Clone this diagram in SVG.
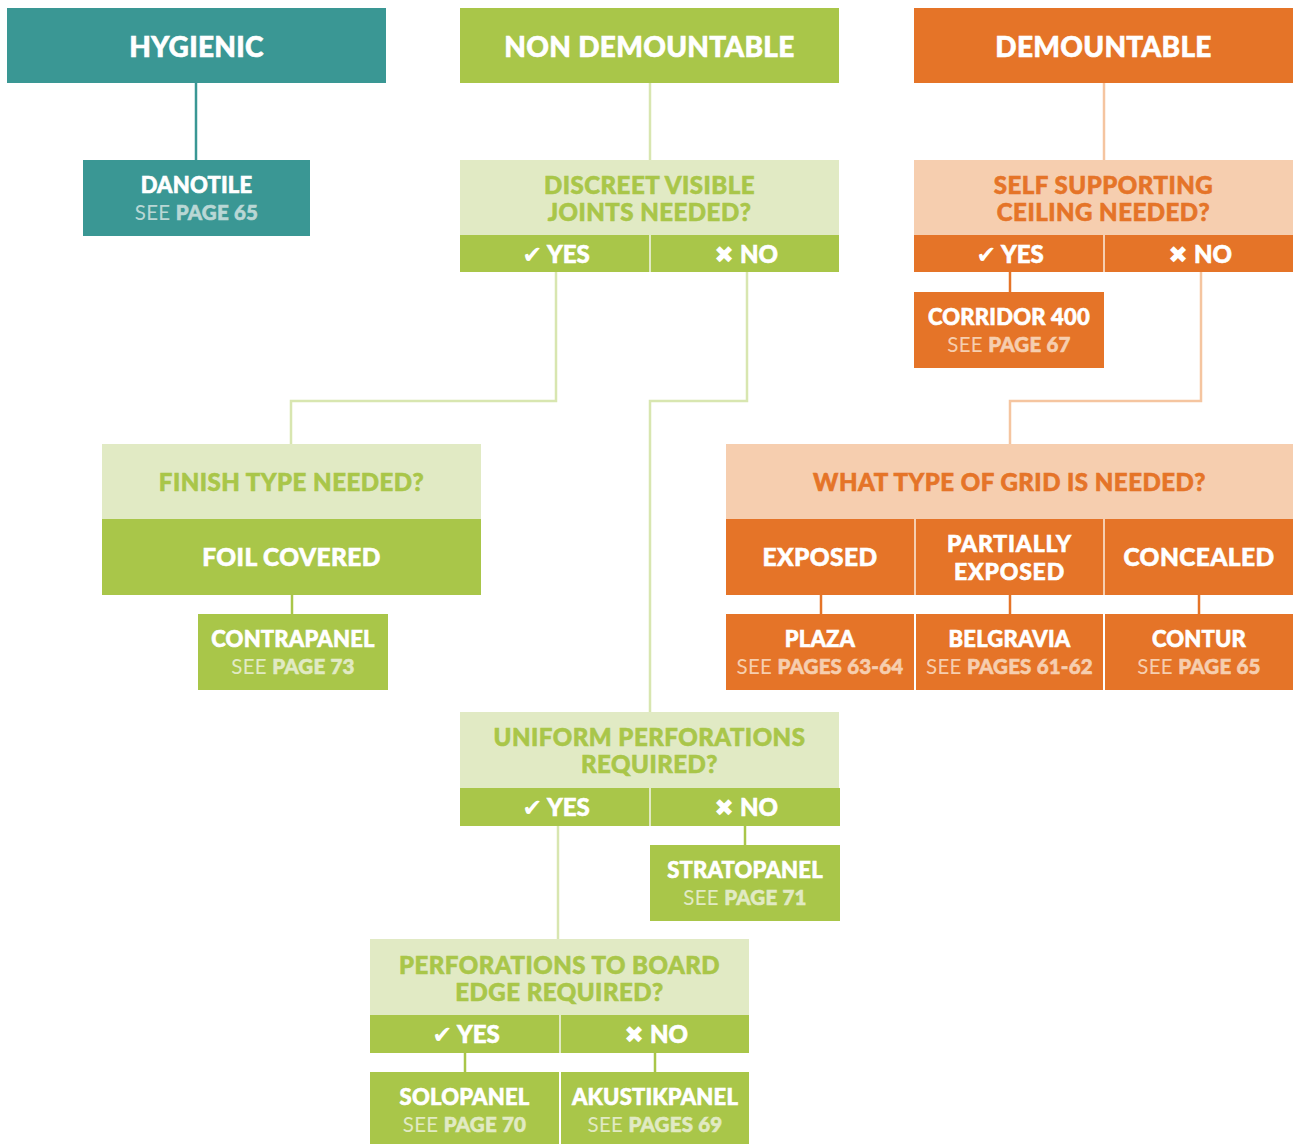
<svg xmlns="http://www.w3.org/2000/svg" width="1293" height="1144" viewBox="0 0 1293 1144">
<style>
text{font-family:Lato,"Liberation Sans",sans-serif;font-weight:900;text-anchor:middle;stroke-width:.6}
.hd{font-size:28px;fill:#fff;stroke:#fff;letter-spacing:.3px}
.q{font-size:24px;letter-spacing:.5px}
.qg{fill:#A9C649;stroke:#A9C649}.qo{fill:#E57428;stroke:#E57428}
.yn{font-size:24px;fill:#fff;stroke:#fff}
.sym{font-size:24px;font-family:"DejaVu Sans",sans-serif;stroke-width:0}
.nm{font-size:22px;fill:#fff;stroke:#fff;letter-spacing:.2px}
.op{font-size:24.5px;fill:#fff;stroke:#fff;letter-spacing:.4px}
.op2{font-size:23px;letter-spacing:.8px}
.see{font-size:20.5px;letter-spacing:.2px}
.see .r{font-weight:400;stroke-width:0}
.sg{fill:#E1EAC4;stroke:#E1EAC4}.so{fill:#F6CEAF;stroke:#F6CEAF}.st{fill:#B9D7D5;stroke:#B9D7D5}
.teal{fill:#3A9794}.green{fill:#A9C649}.orange{fill:#E57428}
.pg{fill:#E1EAC4}.po{fill:#F6CEAF}
.c{fill:none;stroke-width:2.5}
.ct{stroke:#3A9794}.cg{stroke:#A9C649}.co{stroke:#E57428}
.cpg{stroke:#D8E6B0}.cpo{stroke:#F5C5A0}
</style>
<g id="connectors">
<path class="c ct" d="M196,83V160"/>
<path class="c cpg" d="M650,83V160"/>
<path class="c cpo" d="M1104,83V160"/>
<path class="c cpg" d="M556,272V401H291V444"/>
<path class="c cpg" d="M747,272V401H650V712"/>
<path class="c cpo" d="M1201,272V401H1010V444"/>
<path class="c co" d="M1010,272V292"/>
<path class="c cg" d="M292,594V614"/>
<path class="c co" d="M821,594V614M1010,594V614M1199,594V614"/>
<path class="c cg" d="M745,825V845"/>
<path class="c cpg" d="M558,825V939"/>
<path class="c cg" d="M465,1052V1072M655,1052V1072"/>
</g>
<g id="hygienic">
<rect class="teal" x="7" y="8" width="379" height="75"/>
<text class="hd" x="196.5" y="57">HYGIENIC</text>
</g>
<g id="non-demountable">
<rect class="green" x="460" y="8" width="379" height="75"/>
<text class="hd" x="649.5" y="57">NON DEMOUNTABLE</text>
</g>
<g id="demountable">
<rect class="orange" x="914" y="8" width="379" height="75"/>
<text class="hd" x="1103.5" y="57">DEMOUNTABLE</text>
</g>
<g id="danotile">
<rect class="teal" x="83" y="160" width="227" height="76"/>
<text class="nm" x="196.5" y="193">DANOTILE</text>
<text class="see st" x="196.5" y="220"><tspan class="r">SEE </tspan>PAGE 65</text>
</g>
<g id="discreet">
<rect class="pg" x="460" y="160" width="379" height="75"/>
<text class="q qg" x="649.5" y="194">DISCREET VISIBLE</text>
<text class="q qg" x="649.5" y="221">JOINTS NEEDED?</text>
<rect class="green" x="460" y="235" width="379" height="37"/>
<rect class="pg" x="649" y="235" width="2" height="37"/>
<text class="yn" x="556" y="263"><tspan class="sym">✔</tspan> YES</text>
<text class="yn" x="746" y="263"><tspan class="sym">✖</tspan> NO</text>
</g>
<g id="self-supporting">
<rect class="po" x="914" y="160" width="379" height="75"/>
<text class="q qo" x="1103.5" y="194">SELF SUPPORTING</text>
<text class="q qo" x="1103.5" y="221">CEILING NEEDED?</text>
<rect class="orange" x="914" y="235" width="379" height="37"/>
<rect class="po" x="1103" y="235" width="2" height="37"/>
<text class="yn" x="1010" y="263"><tspan class="sym">✔</tspan> YES</text>
<text class="yn" x="1200" y="263"><tspan class="sym">✖</tspan> NO</text>
</g>
<g id="corridor">
<rect class="orange" x="914" y="292" width="190" height="76"/>
<text class="nm" x="1009" y="325">CORRIDOR 400</text>
<text class="see so" x="1009" y="352"><tspan class="r">SEE </tspan>PAGE 67</text>
</g>
<g id="finish">
<rect class="pg" x="102" y="444" width="379" height="75"/>
<text class="q qg" x="291.5" y="491">FINISH TYPE NEEDED?</text>
<rect class="green" x="102" y="519" width="379" height="76"/>
<text class="op" x="291.5" y="566">FOIL COVERED</text>
</g>
<g id="contrapanel">
<rect class="green" x="198" y="614" width="190" height="76"/>
<text class="nm" x="293" y="647">CONTRAPANEL</text>
<text class="see sg" x="293" y="674"><tspan class="r">SEE </tspan>PAGE 73</text>
</g>
<g id="grid">
<rect class="po" x="726" y="444" width="567" height="75"/>
<text class="q qo" x="1009.5" y="491">WHAT TYPE OF GRID IS NEEDED?</text>
<rect class="orange" x="726" y="519" width="567" height="76"/>
<rect class="po" x="914" y="519" width="2" height="76"/>
<rect class="po" x="1103" y="519" width="2" height="76"/>
<text class="op" x="820" y="566">EXPOSED</text>
<text class="op op2" x="1009.5" y="552">PARTIALLY</text>
<text class="op op2" x="1009.5" y="580">EXPOSED</text>
<text class="op" x="1199" y="566">CONCEALED</text>
</g>
<g id="plaza">
<rect class="orange" x="726" y="614" width="188" height="76"/>
<text class="nm" x="820" y="647">PLAZA</text>
<text class="see so" x="820" y="674"><tspan class="r">SEE </tspan>PAGES 63-64</text>
</g>
<g id="belgravia">
<rect class="orange" x="916" y="614" width="187" height="76"/>
<text class="nm" x="1009.5" y="647">BELGRAVIA</text>
<text class="see so" x="1009.5" y="674"><tspan class="r">SEE </tspan>PAGES 61-62</text>
</g>
<g id="contur">
<rect class="orange" x="1105" y="614" width="188" height="76"/>
<text class="nm" x="1199" y="647">CONTUR</text>
<text class="see so" x="1199" y="674"><tspan class="r">SEE </tspan>PAGE 65</text>
</g>
<g id="uniform">
<rect class="pg" x="460" y="712" width="379" height="76"/>
<text class="q qg" x="649.5" y="746">UNIFORM PERFORATIONS</text>
<text class="q qg" x="649.5" y="773">REQUIRED?</text>
<rect class="green" x="460" y="788" width="380" height="38"/>
<rect class="pg" x="649" y="788" width="2" height="38"/>
<text class="yn" x="556" y="816"><tspan class="sym">✔</tspan> YES</text>
<text class="yn" x="746" y="816"><tspan class="sym">✖</tspan> NO</text>
</g>
<g id="stratopanel">
<rect class="green" x="650" y="845" width="190" height="76"/>
<text class="nm" x="745" y="878">STRATOPANEL</text>
<text class="see sg" x="745" y="905"><tspan class="r">SEE </tspan>PAGE 71</text>
</g>
<g id="perforations">
<rect class="pg" x="370" y="939" width="379" height="76"/>
<text class="q qg" x="559.5" y="974">PERFORATIONS TO BOARD</text>
<text class="q qg" x="559.5" y="1001">EDGE REQUIRED?</text>
<rect class="green" x="370" y="1015" width="379" height="38"/>
<rect class="pg" x="559" y="1015" width="2" height="38"/>
<text class="yn" x="466" y="1043"><tspan class="sym">✔</tspan> YES</text>
<text class="yn" x="656" y="1043"><tspan class="sym">✖</tspan> NO</text>
</g>
<g id="solopanel">
<rect class="green" x="370" y="1072" width="189" height="76"/>
<text class="nm" x="464.5" y="1105">SOLOPANEL</text>
<text class="see sg" x="464.5" y="1132"><tspan class="r">SEE </tspan>PAGE 70</text>
</g>
<g id="akustikpanel">
<rect class="green" x="561" y="1072" width="188" height="76"/>
<text class="nm" x="655" y="1105">AKUSTIKPANEL</text>
<text class="see sg" x="655" y="1132"><tspan class="r">SEE </tspan>PAGES 69</text>
</g>
</svg>
